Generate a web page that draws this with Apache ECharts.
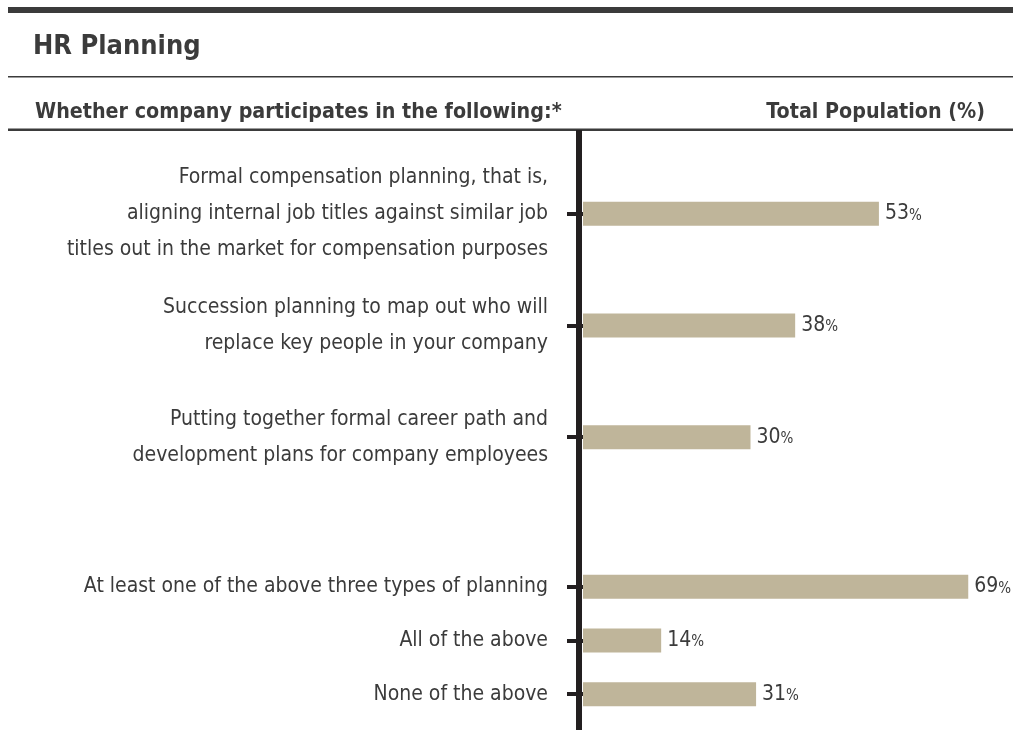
<!DOCTYPE html>
<html>
<head>
<meta charset="utf-8">
<title>HR Planning</title>
<script src="https://cdn.jsdelivr.net/npm/echarts@6/dist/echarts.min.js"></script>
<style>
  html, body { margin: 0; padding: 0; background: #fff; }
  #chart { width: 1013px; height: 730px; }
</style>
</head>
<body>
<div id="chart"></div>
<script>
// data
var topCategories = [
  'Formal compensation planning, that is,\naligning internal job titles against similar job\ntitles out in the market for compensation purposes',
  'Succession planning to map out who will\nreplace key people in your company',
  'Putting together formal career path and\ndevelopment plans for company employees'
];
var topValues = [53, 38, 30];

var bottomCategories = [
  'At least one of the above three types of planning',
  'All of the above',
  'None of the above'
];
var bottomValues = [69, 14, 31];

var narrow = "'Liberation Sans Narrow', 'DejaVu Sans Condensed', 'Roboto', sans-serif";
var ink = '#3b3b3b';
var barColor = '#bfb59a';

var chart = echarts.init(document.getElementById('chart'));

function catAxis(idx, cats) {
  return {
    type: 'category',
    gridIndex: idx,
    inverse: true,
    data: cats,
    axisLine: { show: false },
    axisTick: { show: true, alignWithLabel: true, length: 16, lineStyle: { color: '#231f20', width: 4 } },
    axisLabel: {
      margin: 35,
      color: ink,
      fontFamily: narrow,
      fontSize: 21,
      lineHeight: 36,
      align: 'right'
    }
  };
}

function valAxis(idx) {
  return {
    type: 'value',
    gridIndex: idx,
    min: 0,
    max: 72,
    show: false
  };
}

function barSeries(idx, vals) {
  return {
    type: 'bar',
    xAxisIndex: idx,
    yAxisIndex: idx,
    data: vals,
    barWidth: 24,
    silent: true,
    itemStyle: { color: barColor },
    label: {
      show: true,
      position: 'right',
      distance: 6,
      formatter: function (p) { return '{n|' + p.value + '}{p|%}'; },
      rich: {
        n: { fontFamily: narrow, fontSize: 21, color: ink },
        p: { fontFamily: narrow, fontSize: 15, color: ink, padding: [4, 0, 0, 0] }
      }
    }
  };
}

var option = {
  animation: false,
  title: [
    { text: 'HR Planning', left: 28, top: 28,
      textStyle: { fontFamily: narrow, fontWeight: 'bold', fontSize: 27, color: ink } },
    { text: 'Whether company participates in the following:*', left: 30, top: 97,
      textStyle: { fontFamily: narrow, fontWeight: 'bold', fontSize: 21.3, color: ink } },
    { text: 'Total Population (%)', right: 23, top: 97,
      textStyle: { fontFamily: narrow, fontWeight: 'bold', fontSize: 21.3, color: ink } }
  ],
  grid: [
    { left: 583, width: 402, top: 158, height: 335 },
    { left: 583, width: 402, top: 560, height: 161 }
  ],
  xAxis: [valAxis(0), valAxis(1)],
  yAxis: [catAxis(0, topCategories), catAxis(1, bottomCategories)],
  series: [barSeries(0, topValues), barSeries(1, bottomValues)],
  graphic: [
    { type: 'rect', shape: { x: 8, y: 7, width: 1005, height: 6 }, style: { fill: ink } },
    { type: 'rect', shape: { x: 8, y: 76, width: 1005, height: 1.5 }, style: { fill: ink } },
    { type: 'rect', shape: { x: 8, y: 128.5, width: 1005, height: 2.5 }, style: { fill: ink } },
    { type: 'rect', shape: { x: 576, y: 130, width: 6, height: 600 }, style: { fill: '#231f20' } }
  ]
};

chart.setOption(option);
</script>
</body>
</html>
